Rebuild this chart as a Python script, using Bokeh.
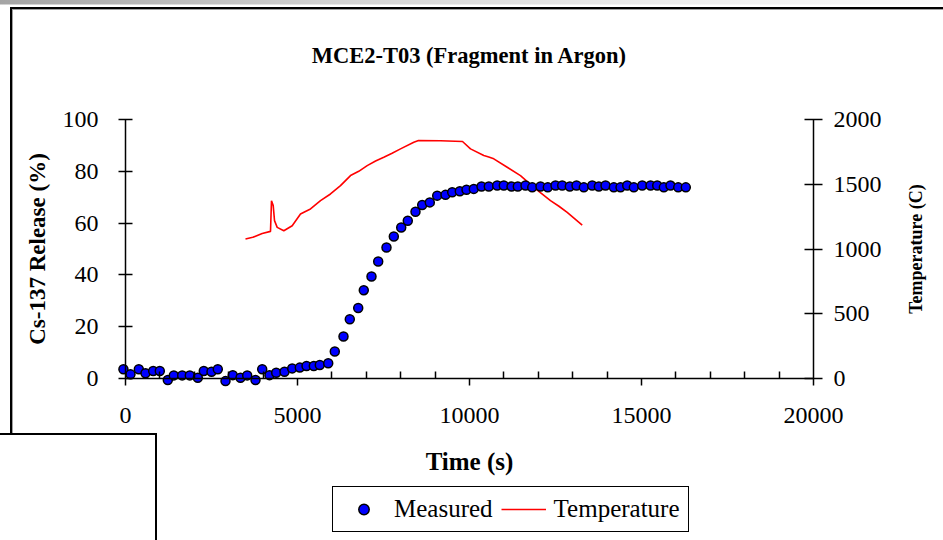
import math
from bokeh.plotting import figure
from bokeh.models import (Range1d, LinearAxis, FixedTicker, Legend, LegendItem,
                          ColumnDataSource, InlineStyleSheet, Label)
from bokeh.embed import file_html
from bokeh.resources import INLINE

# ---- data ----
time_s = [-60, 145, 387, 581, 805, 997, 1230, 1404, 1648, 1869, 2102, 2276, 2500, 2683,
          2907, 3119, 3343, 3538, 3779, 3974, 4186, 4381, 4622, 4846, 5067, 5262, 5474,
          5648, 5893, 6084, 6337, 6520, 6765, 6927, 7151, 7346, 7587, 7800, 8015, 8206,
          8430, 8625, 8846, 9061, 9302, 9497, 9718, 9913, 10125, 10349, 10561, 10805,
          10997, 11221, 11404, 11628, 11823, 12064, 12276, 12500, 12695, 12916, 13111,
          13323, 13567, 13759, 13954, 14195, 14390, 14585, 14777, 15021, 15263, 15457,
          15649, 15843, 16067, 16288]
release_pct = [3.6, 1.6, 3.6, 2.0, 2.9, 2.9, -0.6, 1.2, 1.2, 1.2, 0.3, 2.9, 2.6, 3.6,
               -1.0, 1.3, 0.3, 1.2, -0.6, 3.6, 1.3, 2.2, 2.6, 3.9, 4.2, 4.8, 4.8,
               5.2, 5.9, 10.4, 16.2, 22.9, 27.2, 34.1, 39.4, 45.2, 50.6, 54.8, 58.3, 60.9,
               64.4, 67.0, 68.0, 70.6, 70.9, 71.9, 72.3, 72.9, 73.2, 74.1, 74.1, 74.5,
               74.5, 74.1, 74.1, 74.5, 73.8, 74.1, 73.8, 74.5, 74.5, 74.1, 74.5,
               73.8, 74.5, 74.1, 74.5, 73.8, 73.8, 74.5, 73.8, 74.5, 74.5, 74.5,
               73.8, 74.5, 73.8, 73.8]

temp_time_s = [3488, 3700, 3974, 4215, 4244, 4294, 4332, 4410, 4602, 4846, 5087, 5230,
               5378, 5669, 5959, 6250, 6541, 6780, 7026, 7270, 7509, 7750, 7994, 8381,
               8518, 9157, 9797, 10029, 10416, 10560, 10706, 11096, 11482, 11869, 12354,
               12600, 12840, 13276]
temp_c = [1077, 1090, 1120, 1136, 1373, 1335, 1219, 1167, 1141, 1180, 1270, 1290,
          1309, 1373, 1425, 1489, 1567, 1600, 1644, 1680, 1708, 1740, 1773, 1824,
          1838, 1836, 1830, 1773, 1722, 1710, 1696, 1631, 1567, 1476, 1373,
          1330, 1283, 1185]

x_ticks = [0, 5000, 10000, 15000, 20000]
x_minor = [1000, 2000, 3000, 4000, 6000, 7000, 8000, 9000, 11000, 12000, 13000, 14000,
           16000, 17000, 18000, 19000]
y_ticks = [0, 20, 40, 60, 80, 100]
t_ticks = [0, 500, 1000, 1500, 2000]

title_text = "MCE2-T03 (Fragment in Argon)"
x_label = "Time (s)"
y_label = "Cs-137 Release (%)"
t_label = "Temperature (C)"

FONT = "Liberation Serif"

# ---- layout (canvas pixels) ----
W, H = 943, 540
AX_L, AX_R = 125, 813      # x = 0 and x = 20000
AX_B, AX_T = 378, 119      # y = 0 and y = 100
X_MIN, X_MAX = 0, 20000
Y_MIN, Y_MAX = 0, 100
T_MIN, T_MAX = 0, 2000

ppx = (AX_R - AX_L) / (X_MAX - X_MIN)
ppy = (AX_B - AX_T) / (Y_MAX - Y_MIN)
ppt = (AX_B - AX_T) / (T_MAX - T_MIN)
x_range = Range1d(X_MIN - AX_L / ppx, X_MAX + (W - AX_R) / ppx)
y_range = Range1d(Y_MIN - (H - AX_B) / ppy, Y_MAX + AX_T / ppy)
t_range = Range1d(T_MIN - (H - AX_B) / ppt, T_MAX + AX_T / ppt)

css = InlineStyleSheet(css="""
:host {
  position: relative;
  background: linear-gradient(to right, #a4a4a4, #d2d2d2 35%, #ececec 70%, #fafafa) top left / 100% 4.5px no-repeat, #ffffff;
}
:host::before {
  content: "";
  position: absolute;
  left: 10px; top: 7px; width: 1000px; height: 428px;
  border-top: 2px solid #000;
  border-left: 2px solid #000;
  box-shadow: inset 1px 1px 0 #a0a0a0;
  z-index: 10;
  pointer-events: none;
}
:host::after {
  content: "";
  position: absolute;
  left: -3px; top: 433px; width: 156px; height: 200px;
  border: 2px solid #000;
  background: #ffffff;
  z-index: 11;
  pointer-events: none;
}
""")

p = figure(width=W, height=H, output_backend="svg", toolbar_location=None,
           title=None, x_range=x_range, y_range=y_range, min_border=0,
           background_fill_color=None, border_fill_color=None, stylesheets=[css])
p.outline_line_color = None
p.xgrid.grid_line_color = None
p.ygrid.grid_line_color = None
p.extra_y_ranges = {"temp": t_range}

# bottom axis
xa = p.xaxis[0]
xa.ticker = FixedTicker(ticks=x_ticks, minor_ticks=x_minor)
xa.axis_label = x_label
xa.bounds = (X_MIN, X_MAX)
xa.fixed_location = Y_MIN
xa.major_tick_in = 0
xa.major_tick_out = 7
xa.minor_tick_in = 7
xa.minor_tick_out = 0

# left axis
ya = p.yaxis[0]
ya.ticker = FixedTicker(ticks=y_ticks)
ya.axis_label = y_label
ya.bounds = (Y_MIN, Y_MAX)
ya.fixed_location = X_MIN
ya.major_tick_in = 7
ya.major_tick_out = 7
ya.minor_tick_in = 0
ya.minor_tick_out = 0

# right axis (its title is drawn as a rotated label reading bottom-to-top)
ra = LinearAxis(y_range_name="temp", ticker=FixedTicker(ticks=t_ticks),
                bounds=(T_MIN, T_MAX), fixed_location=X_MAX)
ra.major_tick_in = 9
ra.major_tick_out = 9
ra.minor_tick_in = 0
ra.minor_tick_out = 0
p.add_layout(ra, "right")

for ax in (xa, ya, ra):
    ax.axis_line_color = "black"
    ax.axis_line_width = 1.5
    ax.major_tick_line_color = "black"
    ax.major_tick_line_width = 1.5
    ax.minor_tick_line_color = "black"
    ax.minor_tick_line_width = 1.5
    ax.major_label_text_font = FONT
    ax.major_label_text_font_size = "24px"
    ax.major_label_text_color = "black"
    ax.axis_label_text_font = FONT
    ax.axis_label_text_font_style = "bold"
    ax.axis_label_text_color = "black"

xa.major_label_standoff = 22
xa.axis_label_text_font_size = "25px"
xa.axis_label_standoff = 22
ya.major_label_standoff = 20
ya.axis_label_text_font_size = "23px"
ya.axis_label_standoff = 10
ra.major_label_standoff = 11

src_m = ColumnDataSource(dict(t=time_s, v=release_pct))
src_t = ColumnDataSource(dict(t=temp_time_s, v=temp_c))
r_temp = p.line("t", "v", source=src_t, y_range_name="temp", line_color="#FF0000",
                line_width=1.6)
r_meas = p.scatter("t", "v", source=src_m, size=9, fill_color="#0000FF",
                   line_color="black", line_width=1.5)

# chart title
p.add_layout(Label(x=(X_MIN + X_MAX) / 2, y=H - 55, y_units="screen",
                   text=title_text, text_align="center", text_baseline="middle",
                   text_font=FONT, text_font_size="22.5px", text_font_style="bold",
                   text_color="black"))

# right axis title
p.add_layout(Label(x=915, y=H - (AX_T + AX_B) / 2, x_units="screen", y_units="screen",
                   text=t_label, angle=math.pi / 2, text_align="center",
                   text_baseline="middle", text_font=FONT, text_font_size="18px",
                   text_font_style="bold", text_color="black"))

legend = Legend(items=[LegendItem(label="Measured", renderers=[r_meas]),
                       LegendItem(label="Temperature", renderers=[r_temp])],
                location=(332, H - 532), orientation="horizontal",
                label_text_font=FONT, label_text_font_size="25px",
                label_text_color="black",
                glyph_width=45, glyph_height=26, label_standoff=8, spacing=8,
                padding=8, margin=0, border_line_color="black",
                border_line_alpha=1.0, border_line_width=1.5,
                background_fill_color="white", background_fill_alpha=1.0)
p.add_layout(legend, "center")

open("out.html", "w").write(file_html(p, INLINE))
